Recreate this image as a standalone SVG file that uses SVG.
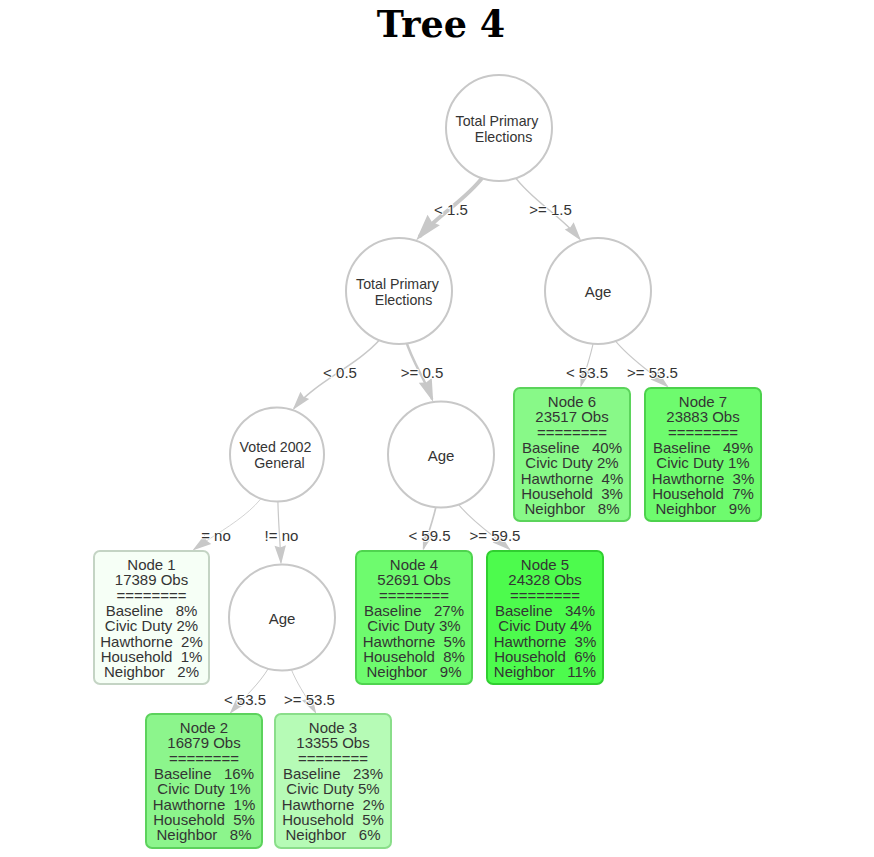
<svg xmlns="http://www.w3.org/2000/svg" width="874" height="857" viewBox="0 0 874 857">
  <defs>
    <style>
      .title{font-family:"DejaVu Serif","Liberation Serif",serif;font-weight:bold;font-size:36.5px;fill:#000;text-anchor:middle}
      .edge{fill:none;stroke:#c8c8c8}
      .head{fill:#c8c8c8;stroke:none}
      .elab{font-family:"Liberation Sans",Arial,sans-serif;font-size:15px;fill:#343434;text-anchor:middle;stroke:#fff;stroke-width:2;paint-order:stroke;stroke-linejoin:round}
      .split circle{fill:#fff;stroke:#c8c8c8;stroke-width:2}
      .lbl{font-family:"Liberation Sans",Arial,sans-serif;font-size:15px;fill:#343434;text-anchor:middle;white-space:pre}
      .lbl2{font-family:"Liberation Sans",Arial,sans-serif;font-size:14.2px;fill:#343434;text-anchor:middle}
      .leaf rect{stroke-width:2}
      #n1 rect{fill:#f6fff6;stroke:#c4d4c4}
      #n2 rect{fill:#8cf58c;stroke:#5cd25c}
      #n3 rect{fill:#b6fbb6;stroke:#8ade8a}
      #n4 rect{fill:#6efb6e;stroke:#4fd44f}
      #n5 rect{fill:#4dfb4d;stroke:#30cf30}
      #n6 rect{fill:#88f988;stroke:#5bd45b}
      #n7 rect{fill:#6efb6e;stroke:#4cd24c}
    </style>
    <marker id="arr-s" markerUnits="userSpaceOnUse" orient="auto" viewBox="-30 -15 40 30" markerWidth="40" markerHeight="30" refX="0" refY="0">
      <path class="head" d="M2,0 L-17,5.7 L-15.1,0 L-17,-5.7 Z"/>
    </marker>
    <marker id="arr-m" markerUnits="userSpaceOnUse" orient="auto" viewBox="-30 -15 40 30" markerWidth="40" markerHeight="30" refX="0" refY="0">
      <path class="head" d="M3,0 L-20,6.9 L-17.7,0 L-20,-6.9 Z"/>
    </marker>
    <marker id="arr-l" markerUnits="userSpaceOnUse" orient="auto" viewBox="-30 -15 40 30" markerWidth="40" markerHeight="30" refX="0" refY="0">
      <path class="head" d="M5,0 L-22,8.1 L-19.3,0 L-22,-8.1 Z"/>
    </marker>
  </defs>

  <rect width="874" height="857" fill="#fff"/>

  <text class="title" x="441" y="37">Tree 4</text>

  <!-- connectors: cubic curves between node centres, arrow tips on the target border -->
  <g id="edges">
    <path class="edge" stroke-width="4" marker-end="url(#arr-l)" d="M499,128 C499,185.87 448.59,202.65 419.35,236.68"/>
    <path class="edge" stroke-width="1.5" marker-end="url(#arr-s)" d="M499,128 C499,187.21 551.25,203.40 579.84,239.09"/>
    <path class="edge" stroke-width="1.5" marker-end="url(#arr-s)" d="M399,291 C399,353.62 327.42,368.27 293.92,408.45"/>
    <path class="edge" stroke-width="2.5" marker-end="url(#arr-m)" d="M399,291 C399,348.59 419.85,365.61 432.16,399.23"/>
    <path class="edge" stroke-width="0.8" marker-end="url(#arr-s)" d="M277,454.5 C277,503.97 230.58,523.41 194.09,549.28"/>
    <path class="edge" stroke-width="1.2" marker-end="url(#arr-s)" d="M277,454.5 C277,511.96 279.49,528.91 280.95,562.5"/>
    <path class="edge" stroke-width="1.7" marker-end="url(#arr-s)" d="M441,454.5 C441,503.47 431.25,523.02 423.47,548.5"/>
    <path class="edge" stroke-width="1.1" marker-end="url(#arr-s)" d="M441,454.5 C441,503.91 479.23,523.37 509.33,549.19"/>
    <path class="edge" stroke-width="1" marker-end="url(#arr-s)" d="M282,617.5 C282,667.02 253.38,686.54 230.82,712.40"/>
    <path class="edge" stroke-width="0.9" marker-end="url(#arr-s)" d="M282,617.5 C282,666.88 300.61,686.43 315.34,712.19"/>
    <path class="edge" stroke-width="1.1" marker-end="url(#arr-s)" d="M598,291 C598,340.25 588.56,359.83 581.06,385.49"/>
    <path class="edge" stroke-width="1.1" marker-end="url(#arr-s)" d="M598,291 C598,340.65 636.74,360.15 667.16,386.12"/>

    <text class="elab" x="451" y="214.7">&lt; 1.5</text>
    <text class="elab" x="550.5" y="214.7">&gt;= 1.5</text>
    <text class="elab" x="340" y="378">&lt; 0.5</text>
    <text class="elab" x="422" y="378">&gt;= 0.5</text>
    <text class="elab" x="216" y="541.2">= no</text>
    <text class="elab" x="281.5" y="541.2">!= no</text>
    <text class="elab" x="429.5" y="541.2">&lt; 59.5</text>
    <text class="elab" x="495" y="541.2">&gt;= 59.5</text>
    <text class="elab" x="245" y="704.5">&lt; 53.5</text>
    <text class="elab" x="309.5" y="704.5">&gt;= 53.5</text>
    <text class="elab" x="587" y="378">&lt; 53.5</text>
    <text class="elab" x="652.5" y="378">&gt;= 53.5</text>
  </g>

  <!-- split nodes -->
  <g id="s1" class="split">
    <circle cx="499" cy="128" r="53"/>
    <text class="lbl2"><tspan x="497" y="125.5">Total Primary</tspan><tspan x="503.5" y="141.5">Elections</tspan></text>
  </g>
  <g id="s2" class="split">
    <circle cx="399" cy="291" r="53"/>
    <text class="lbl2"><tspan x="397.5" y="288.5">Total Primary</tspan><tspan x="403.5" y="304.5">Elections</tspan></text>
  </g>
  <g id="s3" class="split">
    <circle cx="598" cy="291" r="53"/>
    <text class="lbl" x="598" y="297">Age</text>
  </g>
  <g id="s4" class="split">
    <circle cx="277" cy="454.5" r="47"/>
    <text class="lbl2"><tspan x="275.5" y="452">Voted 2002</tspan><tspan x="279.5" y="468">General</tspan></text>
  </g>
  <g id="s5" class="split">
    <circle cx="441" cy="454.5" r="53"/>
    <text class="lbl" x="441" y="460.5">Age</text>
  </g>
  <g id="s6" class="split">
    <circle cx="282" cy="617.5" r="53"/>
    <text class="lbl" x="282" y="623.5">Age</text>
  </g>

  <!-- leaf nodes -->
  <g id="n1" class="leaf">
    <rect x="94" y="551" width="115" height="133" rx="6"/>
    <text class="lbl" x="151.5" y="570">Node 1</text>
    <text class="lbl" x="151.5" y="585.3">17389 Obs</text>
    <text class="lbl" x="151.5" y="600.6">========</text>
    <text class="lbl" x="151.5" y="615.9" xml:space="preserve">Baseline   8%</text>
    <text class="lbl" x="151.5" y="631.2" xml:space="preserve">Civic Duty 2%</text>
    <text class="lbl" x="151.5" y="646.5" xml:space="preserve">Hawthorne  2%</text>
    <text class="lbl" x="151.5" y="661.8" xml:space="preserve">Household  1%</text>
    <text class="lbl" x="151.5" y="677.1" xml:space="preserve">Neighbor   2%</text>
  </g>
  <g id="n2" class="leaf">
    <rect x="146" y="714" width="116" height="134" rx="6"/>
    <text class="lbl" x="204" y="733">Node 2</text>
    <text class="lbl" x="204" y="748.3">16879 Obs</text>
    <text class="lbl" x="204" y="763.6">========</text>
    <text class="lbl" x="204" y="778.9" xml:space="preserve">Baseline   16%</text>
    <text class="lbl" x="204" y="794.2" xml:space="preserve">Civic Duty 1%</text>
    <text class="lbl" x="204" y="809.5" xml:space="preserve">Hawthorne  1%</text>
    <text class="lbl" x="204" y="824.8" xml:space="preserve">Household  5%</text>
    <text class="lbl" x="204" y="840.1" xml:space="preserve">Neighbor   8%</text>
  </g>
  <g id="n3" class="leaf">
    <rect x="275" y="714" width="116" height="134" rx="6"/>
    <text class="lbl" x="333" y="733">Node 3</text>
    <text class="lbl" x="333" y="748.3">13355 Obs</text>
    <text class="lbl" x="333" y="763.6">========</text>
    <text class="lbl" x="333" y="778.9" xml:space="preserve">Baseline   23%</text>
    <text class="lbl" x="333" y="794.2" xml:space="preserve">Civic Duty 5%</text>
    <text class="lbl" x="333" y="809.5" xml:space="preserve">Hawthorne  2%</text>
    <text class="lbl" x="333" y="824.8" xml:space="preserve">Household  5%</text>
    <text class="lbl" x="333" y="840.1" xml:space="preserve">Neighbor   6%</text>
  </g>
  <g id="n4" class="leaf">
    <rect x="356" y="551" width="116" height="133" rx="6"/>
    <text class="lbl" x="414" y="570">Node 4</text>
    <text class="lbl" x="414" y="585.3">52691 Obs</text>
    <text class="lbl" x="414" y="600.6">========</text>
    <text class="lbl" x="414" y="615.9" xml:space="preserve">Baseline   27%</text>
    <text class="lbl" x="414" y="631.2" xml:space="preserve">Civic Duty 3%</text>
    <text class="lbl" x="414" y="646.5" xml:space="preserve">Hawthorne  5%</text>
    <text class="lbl" x="414" y="661.8" xml:space="preserve">Household  8%</text>
    <text class="lbl" x="414" y="677.1" xml:space="preserve">Neighbor   9%</text>
  </g>
  <g id="n5" class="leaf">
    <rect x="487" y="551" width="116" height="133" rx="6"/>
    <text class="lbl" x="545" y="570">Node 5</text>
    <text class="lbl" x="545" y="585.3">24328 Obs</text>
    <text class="lbl" x="545" y="600.6">========</text>
    <text class="lbl" x="545" y="615.9" xml:space="preserve">Baseline   34%</text>
    <text class="lbl" x="545" y="631.2" xml:space="preserve">Civic Duty 4%</text>
    <text class="lbl" x="545" y="646.5" xml:space="preserve">Hawthorne  3%</text>
    <text class="lbl" x="545" y="661.8" xml:space="preserve">Household  6%</text>
    <text class="lbl" x="545" y="677.1" xml:space="preserve">Neighbor   11%</text>
  </g>
  <g id="n6" class="leaf">
    <rect x="514" y="388" width="116" height="133" rx="6"/>
    <text class="lbl" x="572" y="407">Node 6</text>
    <text class="lbl" x="572" y="422.3">23517 Obs</text>
    <text class="lbl" x="572" y="437.6">========</text>
    <text class="lbl" x="572" y="452.9" xml:space="preserve">Baseline   40%</text>
    <text class="lbl" x="572" y="468.2" xml:space="preserve">Civic Duty 2%</text>
    <text class="lbl" x="572" y="483.5" xml:space="preserve">Hawthorne  4%</text>
    <text class="lbl" x="572" y="498.8" xml:space="preserve">Household  3%</text>
    <text class="lbl" x="572" y="514.1" xml:space="preserve">Neighbor   8%</text>
  </g>
  <g id="n7" class="leaf">
    <rect x="645" y="388" width="116" height="133" rx="6"/>
    <text class="lbl" x="703" y="407">Node 7</text>
    <text class="lbl" x="703" y="422.3">23883 Obs</text>
    <text class="lbl" x="703" y="437.6">========</text>
    <text class="lbl" x="703" y="452.9" xml:space="preserve">Baseline   49%</text>
    <text class="lbl" x="703" y="468.2" xml:space="preserve">Civic Duty 1%</text>
    <text class="lbl" x="703" y="483.5" xml:space="preserve">Hawthorne  3%</text>
    <text class="lbl" x="703" y="498.8" xml:space="preserve">Household  7%</text>
    <text class="lbl" x="703" y="514.1" xml:space="preserve">Neighbor   9%</text>
  </g>
</svg>
